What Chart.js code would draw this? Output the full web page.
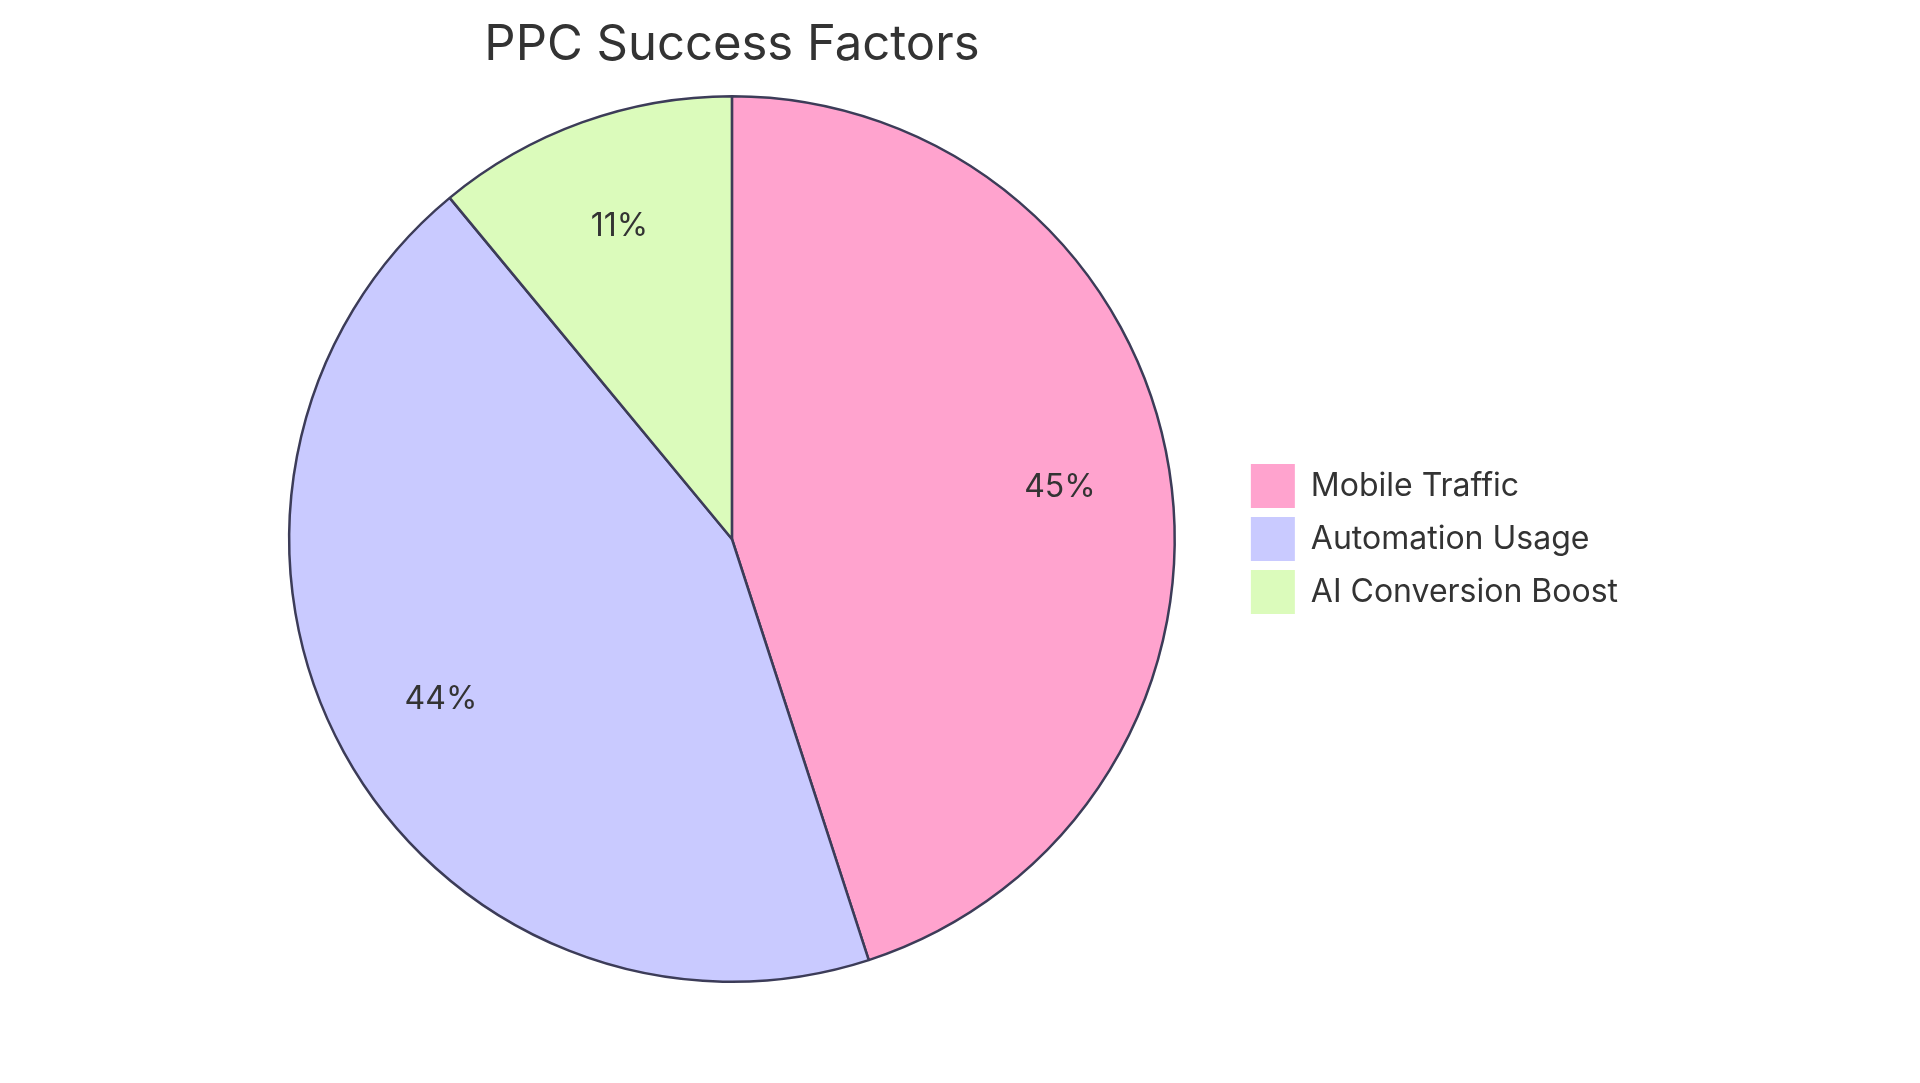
<!DOCTYPE html>
<html><head><meta charset="utf-8">
<script src="https://cdn.jsdelivr.net/npm/chart.js@4/dist/chart.umd.min.js"></script>
<style>html,body{margin:0;padding:0;background:#fff}#w{width:1920px;height:1083px}</style>
</head><body><div id="w"><canvas id="c"></canvas></div>
<script>
const titleText = 'PPC Success Factors';
const categories = ['Mobile Traffic','Automation Usage','AI Conversion Boost'];
const values = [45,44,11];
const colors = ['#FFA3CE','#C9CAFF','#DBFBBB'];
const overlay = {
  id:'overlay',
  afterDraw(chart){
    const ctx = chart.ctx;
    const meta = chart.getDatasetMeta(0);
    const total = values.reduce((a,b)=>a+b,0);
    ctx.save();
    ctx.fillStyle='#333';
    ctx.textAlign='center';ctx.textBaseline='middle';
    ctx.font='32px Inter, "Noto Sans", sans-serif';
    meta.data.forEach((arc,i)=>{
      const p = arc.getProps(['x','y','startAngle','endAngle','outerRadius'],true);
      const a=(p.startAngle+p.endAngle)/2, r=p.outerRadius*0.75;
      ctx.fillText(Math.round(values[i]/total*100)+'%', p.x+Math.cos(a)*r, p.y+Math.sin(a)*r);
    });
    const a0 = meta.data[0];
    ctx.font='49px Inter, "Noto Sans", sans-serif';
    ctx.fillText(titleText, a0.x, 45);
    ctx.restore();
  }
};
new Chart(document.getElementById('c'),{
  type:'pie',
  data:{labels:categories,datasets:[{data:values,backgroundColor:colors,borderColor:'#3c3c58',borderWidth:2.5}]},
  options:{
    responsive:true,maintainAspectRatio:false,animation:false,
    layout:{padding:{top:95,bottom:100,left:222,right:292}},
    plugins:{
      tooltip:{enabled:false},
      legend:{position:'right',labels:{font:{size:32,family:'Inter, "Noto Sans", sans-serif'},color:'#333',boxWidth:44,boxHeight:44,padding:9,
        generateLabels(chart){
          return Chart.controllers.pie.overrides.plugins.legend.labels.generateLabels(chart).map(l=>Object.assign(l,{lineWidth:0,strokeStyle:'rgba(0,0,0,0)'}));
        }}}
    }
  },
  plugins:[overlay]
});
</script></body></html>
